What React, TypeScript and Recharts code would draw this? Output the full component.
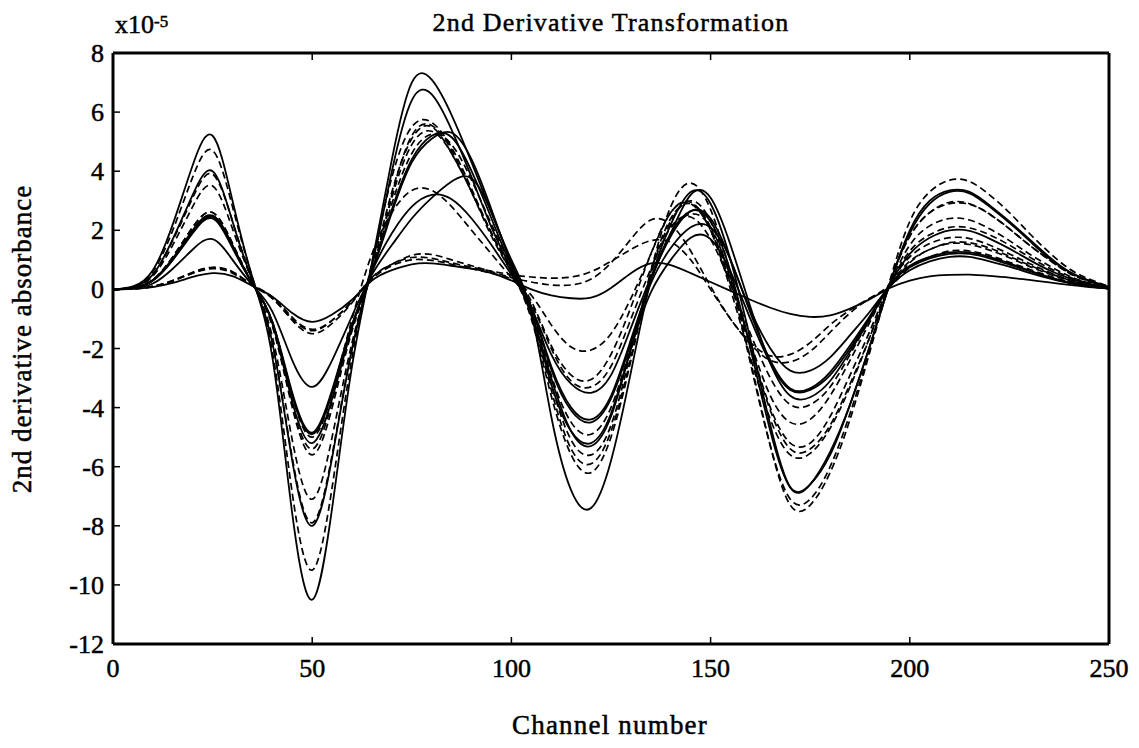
import { Line, LineChart, XAxis, YAxis } from 'recharts';

const FONT = '"Liberation Serif", "Times New Roman", serif';

// plot box in page pixels
const WIDTH = 1139;
const HEIGHT = 748;
const PLOT_LEFT = 113;
const PLOT_RIGHT = 1109;
const PLOT_TOP = 53;
const PLOT_BOTTOM = 644;
const TICK_LEN = 7;

const CHANNELS = [
  0, 5, 10, 15, 20, 25, 30, 35, 40, 45,
  50, 55, 60, 65, 70, 75, 80, 85, 90, 95,
  100, 105, 110, 115, 120, 125, 130, 135, 140, 145,
  150, 155, 160, 165, 170, 175, 180, 185, 190, 195,
  200, 205, 210, 215, 220, 225, 230, 235, 240, 245, 250,
];

const X_TICKS = [0, 50, 100, 150, 200, 250];
const Y_TICKS = [-12, -10, -8, -6, -4, -2, 0, 2, 4, 6, 8];

// 2nd derivative spectra, units of 1e-5 absorbance
const SAMPLE_01 = [
  0, 0.1, 0.65, 2.2, 4.2, 5.2, 3.0, 0.4, -2.3, -7.6,
  -10.5, -7.4, -2.6, 0.9, 4.4, 7.0, 7.1, 5.9, 4.3, 2.6,
  1.0, -0.8, -4.3, -6.8, -7.4, -5.8, -2.8, 0.3, 2.2, 3.3,
  2.9, 1.0, -1.7, -4.6, -6.7, -6.6, -5.5, -3.9, -1.9, 0.2,
  2.0, 3.0, 3.35, 3.3, 2.85, 2.3, 1.7, 1.1, 0.6, 0.3, 0.08,
];
const SAMPLE_02 = [
  0, 0.08, 0.6, 2.0, 3.8, 4.7, 2.8, 0.4, -2.1, -6.9,
  -9.5, -6.7, -2.3, 0.9, 3.8, 5.5, 5.65, 4.8, 3.4, 1.9,
  0.6, -1.0, -3.6, -5.6, -6.2, -5.0, -2.4, 0.6, 2.8, 3.6,
  2.7, 0.5, -2.4, -5.3, -7.3, -7.3, -6.2, -4.4, -2.1, 0.3,
  2.3, 3.3, 3.7, 3.65, 3.2, 2.6, 1.9, 1.25, 0.7, 0.35, 0.1,
];
const SAMPLE_03 = [
  0, 0.08, 0.5, 1.7, 3.2, 4.0, 2.3, 0.3, -1.8, -5.8,
  -8.0, -5.7, -2.0, 0.8, 4.0, 6.4, 6.6, 5.4, 3.8, 2.1,
  0.7, -0.8, -3.0, -4.8, -5.3, -4.3, -2.0, 0.3, 1.9, 2.65,
  2.3, 0.6, -2.0, -4.8, -6.7, -6.6, -5.6, -3.9, -1.9, 0.2,
  1.9, 2.9, 3.3, 3.25, 2.8, 2.25, 1.65, 1.05, 0.6, 0.3, 0.08,
];
const SAMPLE_04 = [
  0, 0.07, 0.5, 1.65, 3.1, 3.9, 2.3, 0.3, -1.8, -5.7,
  -7.9, -5.6, -2.0, 0.7, 3.3, 5.1, 5.5, 4.6, 3.3, 1.8,
  0.6, -0.9, -3.4, -5.4, -5.9, -4.8, -2.3, 0.5, 2.3, 3.0,
  2.3, 0.3, -2.5, -5.3, -7.1, -7.1, -6.0, -4.2, -2.0, 0.25,
  1.8, 2.6, 2.95, 2.9, 2.55, 2.05, 1.5, 1.0, 0.55, 0.28, 0.08,
];
const SAMPLE_05 = [
  0, 0.06, 0.45, 1.5, 2.8, 3.5, 2.05, 0.3, -1.6, -5.1,
  -7.1, -5.0, -1.8, 0.6, 2.9, 4.6, 5.25, 4.9, 3.7, 2.2,
  0.8, -0.8, -3.2, -5.1, -5.6, -4.6, -2.1, 0.6, 2.4, 2.9,
  2.1, 0.2, -2.0, -4.1, -5.4, -5.4, -4.6, -3.2, -1.6, 0.15,
  1.5, 2.15, 2.4, 2.35, 2.05, 1.65, 1.2, 0.8, 0.45, 0.22, 0.06,
];
const SAMPLE_06 = [
  0, 0.05, 0.3, 1.0, 1.95, 2.45, 1.45, 0.2, -1.1, -3.5,
  -4.85, -3.4, -1.2, 0.6, 2.6, 4.3, 5.1, 5.3, 4.4, 2.7,
  0.9, -0.6, -2.6, -4.0, -4.4, -3.6, -1.7, 0.2, 1.4, 2.1,
  2.1, 1.0, -0.8, -2.4, -3.35, -3.35, -2.8, -1.9, -0.9, 0.2,
  1.2, 1.75, 2.0, 1.98, 1.72, 1.38, 1.0, 0.65, 0.38, 0.18, 0.05,
];
const SAMPLE_07 = [
  0, 0.05, 0.32, 1.1, 2.1, 2.6, 1.55, 0.2, -1.2, -3.9,
  -5.4, -3.8, -1.3, 0.6, 3.1, 4.9, 5.35, 4.6, 3.3, 1.9,
  0.6, -0.7, -2.9, -4.5, -4.9, -4.0, -1.9, 0.3, 1.9, 2.55,
  2.1, 0.4, -1.9, -4.0, -5.2, -5.2, -4.3, -2.9, -1.4, 0.15,
  1.1, 1.55, 1.75, 1.72, 1.5, 1.2, 0.88, 0.58, 0.33, 0.16, 0.05,
];
const SAMPLE_08 = [
  0, 0.03, 0.2, 0.7, 1.35, 1.7, 1.0, 0.15, -0.75, -2.4,
  -3.3, -2.4, -0.9, 0.5, 1.5, 2.4, 3.1, 3.65, 3.75, 2.6,
  0.9, -0.6, -2.2, -3.2, -3.5, -2.9, -1.3, 0.4, 1.8, 2.65,
  2.4, 1.0, -0.7, -2.0, -2.75, -2.75, -2.3, -1.55, -0.75, 0.1,
  0.65, 0.95, 1.1, 1.1, 0.95, 0.77, 0.56, 0.37, 0.21, 0.1, 0.03,
];
const SAMPLE_09 = [
  0, 0.05, 0.3, 1.05, 2.0, 2.5, 1.45, 0.2, -1.1, -3.6,
  -5.0, -3.5, -1.0, 1.2, 2.6, 3.35, 3.35, 2.8, 2.0, 1.2,
  0.4, -0.5, -2.0, -3.1, -3.3, -2.6, -1.0, 0.7, 2.1, 2.45,
  1.7, 0.2, -1.5, -3.0, -3.9, -3.9, -3.3, -2.2, -1.0, 0.15,
  0.95, 1.35, 1.55, 1.52, 1.33, 1.07, 0.78, 0.52, 0.3, 0.15, 0.04,
];
const SAMPLE_10 = [
  0, 0.05, 0.3, 1.0, 1.9, 2.4, 1.4, 0.2, -1.15, -3.8,
  -5.2, -3.7, -1.3, 0.6, 1.9, 2.8, 3.2, 3.05, 2.4, 1.5,
  0.5, -0.8, -3.2, -4.8, -5.2, -4.2, -2.0, -0.1, 1.0, 1.75,
  1.7, 0.6, -1.0, -2.5, -3.4, -3.4, -2.9, -2.0, -0.95, 0.15,
  0.75, 1.05, 1.2, 1.2, 1.05, 0.84, 0.62, 0.4, 0.23, 0.11, 0.03,
];
const SAMPLE_11 = [
  0, 0.02, 0.1, 0.3, 0.58, 0.75, 0.6, 0.15, -0.25, -0.95,
  -1.35, -1.05, -0.4, 0.4, 0.85, 1.15, 1.18, 1.0, 0.8, 0.6,
  0.4, 0.25, 0.15, 0.15, 0.35, 0.9, 1.7, 2.35, 2.2, 1.3,
  0.1, -1.0, -1.8, -2.25, -2.2, -1.8, -1.2, -0.7, -0.3, 0.1,
  0.75, 1.1, 1.3, 1.3, 1.15, 0.92, 0.68, 0.45, 0.26, 0.12, 0.03,
];
const SAMPLE_12 = [
  0, 0.02, 0.1, 0.3, 0.55, 0.7, 0.55, 0.12, -0.3, -1.0,
  -1.4, -1.05, -0.4, 0.35, 0.8, 1.0, 0.98, 0.85, 0.7, 0.55,
  0.35, -0.2, -1.2, -1.95, -2.05, -1.5, -0.3, 1.2, 2.6, 2.9,
  2.0, 0.2, -1.8, -3.6, -4.5, -4.4, -3.6, -2.4, -1.1, 0.2,
  1.3, 1.85, 2.1, 2.08, 1.85, 1.5, 1.1, 0.72, 0.42, 0.2, 0.05,
];
const SAMPLE_13 = [
  0, 0.02, 0.08, 0.22, 0.42, 0.55, 0.45, 0.12, -0.25, -0.8,
  -1.1, -0.85, -0.35, 0.3, 0.65, 0.85, 0.88, 0.8, 0.7, 0.55,
  0.3, 0.0, -0.2, -0.3, -0.28, 0.05, 0.55, 0.88, 0.82, 0.55,
  0.25, -0.05, -0.35, -0.62, -0.83, -0.93, -0.88, -0.65, -0.33, 0.05,
  0.3, 0.44, 0.49, 0.5, 0.46, 0.4, 0.32, 0.24, 0.15, 0.08, 0.03,
];
const SAMPLE_14 = [
  0, 0.02, 0.1, 0.28, 0.55, 0.72, 0.58, 0.15, -0.3, -1.05,
  -1.5, -1.15, -0.45, 0.4, 0.85, 1.08, 1.05, 0.9, 0.75, 0.62,
  0.5, 0.42, 0.38, 0.42, 0.6, 0.95, 1.35, 1.65, 1.6, 1.0,
  0.0, -1.0, -1.85, -2.4, -2.45, -2.1, -1.45, -0.8, -0.3, 0.15,
  0.9, 1.35, 1.58, 1.58, 1.4, 1.12, 0.82, 0.55, 0.32, 0.15, 0.04,
];
const SAMPLE_15 = [
  0, 0.05, 0.32, 1.1, 2.1, 2.6, 1.55, 0.2, -1.25, -4.0,
  -5.6, -4.0, -1.4, 0.6, 3.2, 5.2, 5.55, 4.7, 3.3, 1.9,
  0.7, -0.4, -1.9, -2.9, -3.05, -2.2, -0.6, 1.2, 2.6, 2.95,
  2.0, 0.0, -2.3, -4.4, -5.6, -5.55, -4.7, -3.3, -1.6, 0.25,
  1.8, 2.6, 2.9, 2.88, 2.55, 2.05, 1.5, 1.0, 0.56, 0.27, 0.07,
];
const SAMPLE_16 = [
  0, 0.05, 0.32, 1.05, 2.0, 2.5, 1.5, 0.2, -1.1, -3.6,
  -4.9, -3.5, -1.2, 0.6, 2.7, 4.4, 5.2, 5.15, 4.0, 2.4,
  0.8, -0.6, -2.7, -4.1, -4.5, -3.7, -1.8, 0.3, 1.9, 3.2,
  3.1, 1.5, -0.6, -2.5, -3.6, -3.65, -3.1, -2.1, -1.0, 0.15,
  0.8, 1.1, 1.25, 1.25, 1.1, 0.88, 0.64, 0.42, 0.24, 0.12, 0.03,
];

const SERIES = [
  { key: 's01', values: SAMPLE_01, dashed: false },
  { key: 's02', values: SAMPLE_02, dashed: true },
  { key: 's03', values: SAMPLE_03, dashed: false },
  { key: 's04', values: SAMPLE_04, dashed: true },
  { key: 's05', values: SAMPLE_05, dashed: true },
  { key: 's06', values: SAMPLE_06, dashed: false },
  { key: 's07', values: SAMPLE_07, dashed: true },
  { key: 's08', values: SAMPLE_08, dashed: false },
  { key: 's09', values: SAMPLE_09, dashed: true },
  { key: 's10', values: SAMPLE_10, dashed: false },
  { key: 's11', values: SAMPLE_11, dashed: true },
  { key: 's12', values: SAMPLE_12, dashed: true },
  { key: 's13', values: SAMPLE_13, dashed: false },
  { key: 's14', values: SAMPLE_14, dashed: true },
  { key: 's15', values: SAMPLE_15, dashed: true },
  { key: 's16', values: SAMPLE_16, dashed: false },
];

const rows = CHANNELS.map((channel, i) => {
  const row: Record<string, number> = { channel };
  SERIES.forEach((s) => {
    row[s.key] = s.values[i];
  });
  return row;
});

// text in the scanned original is heavy, so give it a thin outline
const heavy = { stroke: '#000', strokeWidth: 0.5 };

// inward tick marks in the matlab style, labels on bottom/left only
function BottomTick({ x, payload }: any) {
  return (
    <g>
      <line x1={x} y1={PLOT_BOTTOM} x2={x} y2={PLOT_BOTTOM - TICK_LEN} stroke="#000" strokeWidth={1.5} />
      <text x={x} y={677} textAnchor="middle" fontFamily={FONT} fontSize={26} fill="#000" {...heavy}>
        {payload.value}
      </text>
    </g>
  );
}

function TopTick({ x }: any) {
  return <line x1={x} y1={PLOT_TOP} x2={x} y2={PLOT_TOP + TICK_LEN} stroke="#000" strokeWidth={1.5} />;
}

function LeftTick({ y, payload }: any) {
  return (
    <g>
      <line x1={PLOT_LEFT} y1={y} x2={PLOT_LEFT + TICK_LEN} y2={y} stroke="#000" strokeWidth={1.5} />
      <text x={104} y={y + 9} textAnchor="end" fontFamily={FONT} fontSize={26} fill="#000" {...heavy}>
        {payload.value}
      </text>
    </g>
  );
}

function RightTick({ y }: any) {
  return <line x1={PLOT_RIGHT} y1={y} x2={PLOT_RIGHT - TICK_LEN} y2={y} stroke="#000" strokeWidth={1.5} />;
}

const frame = { stroke: '#000', strokeWidth: 3 };

export default function App() {
  return (
    <div style={{ position: 'absolute', left: 0, top: 0, width: WIDTH, height: HEIGHT, background: '#fff' }}>
      <LineChart
        width={WIDTH}
        height={HEIGHT}
        data={rows}
        margin={{ top: PLOT_TOP - 1, right: WIDTH - PLOT_RIGHT - 1, bottom: HEIGHT - PLOT_BOTTOM - 40, left: 0 }}
      >
        <XAxis
          dataKey="channel"
          type="number"
          domain={[0, 250]}
          ticks={X_TICKS}
          height={40}
          axisLine={frame}
          tickLine={false}
          tick={<BottomTick />}
        />
        <XAxis
          xAxisId="top"
          orientation="top"
          dataKey="channel"
          type="number"
          domain={[0, 250]}
          ticks={X_TICKS}
          height={1}
          axisLine={frame}
          tickLine={false}
          tick={<TopTick />}
        />
        <YAxis
          type="number"
          domain={[-12, 8]}
          ticks={Y_TICKS}
          width={PLOT_LEFT}
          axisLine={frame}
          tickLine={false}
          tick={<LeftTick />}
        />
        <YAxis
          yAxisId="right"
          orientation="right"
          type="number"
          domain={[-12, 8]}
          ticks={Y_TICKS}
          width={1}
          axisLine={frame}
          tickLine={false}
          tick={<RightTick />}
        />
        {SERIES.map((s) => (
          <Line
            key={s.key}
            dataKey={s.key}
            type="natural"
            stroke="#000"
            strokeWidth={s.dashed ? 1.7 : 1.8}
            strokeDasharray={s.dashed ? '7 4' : undefined}
            dot={false}
            isAnimationActive={false}
          />
        ))}
      </LineChart>
      <svg
        width={WIDTH}
        height={HEIGHT}
        style={{ position: 'absolute', left: 0, top: 0, pointerEvents: 'none' }}
        fontFamily={FONT}
        fill="#000"
      >
        <text x={611} y={31} textAnchor="middle" fontSize={26} letterSpacing={1.2} {...heavy}>
          2nd Derivative Transformation
        </text>
        <text x={115} y={33} fontSize={26} {...heavy}>
          x10
          <tspan dy={-6} fontSize={17}>
            -5
          </tspan>
        </text>
        <text x={610} y={734} textAnchor="middle" fontSize={27} letterSpacing={1.2} {...heavy}>
          Channel number
        </text>
        <text
          transform="translate(31,339) rotate(-90)"
          textAnchor="middle"
          fontSize={27}
          letterSpacing={1}
          {...heavy}
        >
          2nd derivative absorbance
        </text>
      </svg>
    </div>
  );
}
